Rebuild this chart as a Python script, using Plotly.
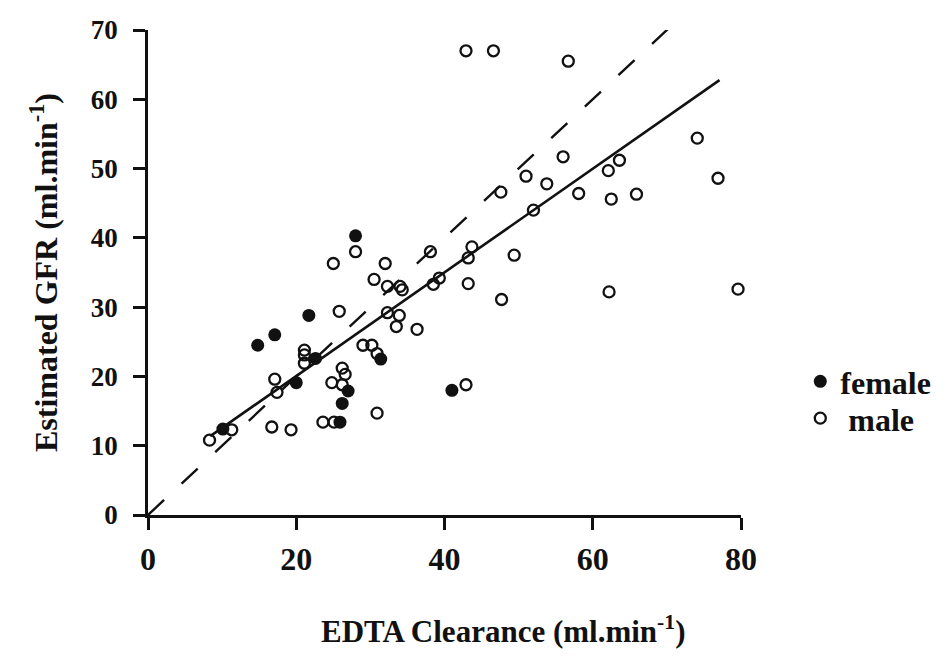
import plotly.graph_objects as go

# ---- data ----
female_x = [10.1, 14.8, 17.1, 20.0, 21.7, 22.6, 26.2, 25.9, 27.0, 28.0, 31.4, 41.0]
female_y = [12.4, 24.5, 26.0, 19.1, 28.8, 22.6, 16.1, 13.4, 17.9, 40.3, 22.5, 18.0]

male_x = [8.3, 11.3, 16.7, 19.3, 17.1, 17.4, 21.1, 21.1, 21.1, 24.8, 26.2, 26.6, 26.2,
          23.6, 25.1, 25.8, 25.0, 28.0, 32.0, 30.5, 32.3, 34.0, 34.3, 32.3, 33.9, 33.5,
          36.3, 29.0, 30.2, 30.9, 30.9, 38.1, 43.7, 43.2, 38.5, 39.3, 43.2, 47.7, 42.9,
          49.4, 52.0, 47.6, 51.0, 53.8, 58.1, 56.0, 62.1, 63.6, 62.5, 65.9, 74.1, 76.9,
          79.6, 62.2, 42.9, 46.6, 56.7]
male_y = [10.8, 12.3, 12.7, 12.3, 19.6, 17.7, 23.8, 23.1, 21.9, 19.1, 21.2, 20.3, 18.8,
          13.4, 13.4, 29.4, 36.3, 38.0, 36.3, 34.0, 33.0, 33.0, 32.5, 29.2, 28.8, 27.2,
          26.8, 24.5, 24.5, 23.3, 14.7, 38.0, 38.7, 37.1, 33.3, 34.2, 33.4, 31.1, 18.8,
          37.5, 44.0, 46.6, 48.9, 47.8, 46.4, 51.7, 49.7, 51.2, 45.6, 46.3, 54.4, 48.6,
          32.6, 32.2, 67.0, 67.0, 65.5]

# regression line (estimated) and line of identity
fit_intercept = 5.1
fit_slope = 0.748
fit_x = [8.4, 77.1]
identity_x = [0, 72]

x_ticks = [0, 20, 40, 60, 80]
y_ticks = [0, 10, 20, 30, 40, 50, 60, 70]

x_title = "EDTA Clearance (ml.min<sup>-1</sup>)"
y_title = "Estimated GFR (ml.min<sup>-1</sup>)"

FONT = "Liberation Serif"
INK = "#111111"

fig = go.Figure()

fig.add_trace(go.Scatter(
    x=identity_x, y=identity_x, mode="lines",
    line=dict(color=INK, width=2.4, dash="22px,24px"),
    showlegend=False, hoverinfo="skip", cliponaxis=False))

fig.add_trace(go.Scatter(
    x=fit_x, y=[fit_intercept + fit_slope * v for v in fit_x], mode="lines",
    line=dict(color=INK, width=2.6),
    showlegend=False, hoverinfo="skip", cliponaxis=False))

fig.add_trace(go.Scatter(
    x=female_x, y=female_y, mode="markers", name="female",
    marker=dict(symbol="circle", size=13, color=INK, line=dict(width=0)),
    cliponaxis=False, legend="legend"))

fig.add_trace(go.Scatter(
    x=male_x, y=male_y, mode="markers", name="\u00a0male",
    marker=dict(symbol="circle-open", size=11, color=INK, line=dict(width=2.3, color=INK)),
    cliponaxis=False, legend="legend2"))

axis_common = dict(
    showline=True, linecolor=INK, linewidth=2.5,
    ticks="outside", ticklen=12, tickwidth=2.5, tickcolor=INK,
    showgrid=False, zeroline=False,
)

legend_common = dict(xanchor="left", yanchor="top",
                     font=dict(family=FONT, size=32, color=INK, weight="bold"),
                     bgcolor="rgba(0,0,0,0)")

fig.update_layout(
    width=948, height=666,
    margin=dict(l=148, r=207, t=30, b=151),
    paper_bgcolor="white", plot_bgcolor="white",
    font=dict(family=FONT, color=INK),
    xaxis=dict(range=[0, 80], tickvals=x_ticks, **axis_common,
               tickfont=dict(family=FONT, size=32, color=INK, weight="bold"),
               ticklabelstandoff=2),
    yaxis=dict(range=[0, 70], tickvals=y_ticks, **axis_common,
               tickfont=dict(family=FONT, size=27, color=INK, weight="bold"),
               ticklabelstandoff=10,
               title=dict(text=y_title,
                          font=dict(family=FONT, size=32, color=INK, weight="bold"),
                          standoff=24)),
    legend=dict(x=1.1, y=0.332, **legend_common),
    legend2=dict(x=1.1, y=0.256, **legend_common),
    annotations=[dict(text=x_title, xref="paper", yref="paper", x=0.6, y=-0.237,
                      xanchor="center", yanchor="middle", showarrow=False,
                      font=dict(family=FONT, size=31, color=INK, weight="bold"))],
)

fig.write_html("out.html")
